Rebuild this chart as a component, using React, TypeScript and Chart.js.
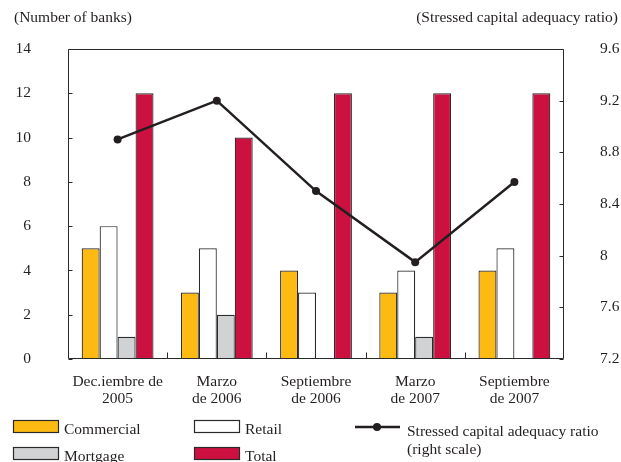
import React, { useEffect, useRef } from "react";
import { Chart, registerables } from "chart.js";

Chart.register(...registerables);

const categories: string[][] = [
  ["Dec.iembre de", "2005"],
  ["Marzo", "de 2006"],
  ["Septiembre", "de 2006"],
  ["Marzo", "de 2007"],
  ["Septiembre", "de 2007"],
];
const commercial = [5, 3, 4, 3, 4];
const retail = [6, 5, 3, 4, 5];
const mortgage = [1, 2, 0, 1, 0];
const total = [12, 10, 12, 12, 12];
const ratio = [8.9, 9.2, 8.5, 7.95, 8.57];
const leftTicks = [0, 2, 4, 6, 8, 10, 12, 14];
const rightTicks = [7.2, 7.6, 8, 8.4, 8.8, 9.2, 9.6];

const leftTitle = "(Number of banks)";
const rightTitle = "(Stressed capital adequacy ratio)";
const legendCommercial = "Commercial";
const legendRetail = "Retail";
const legendMortgage = "Mortgage";
const legendTotal = "Total";
const legendRatio = ["Stressed capital adequacy ratio", "(right scale)"];

const YELLOW = "#FDBA13";
const WHITE = "#FFFFFF";
const GRAY = "#D1D2D4";
const RED = "#CC1141";
const EDGE = "#2A2A2A";
const LINE = "#231F20";
const FONT_FAMILY = "'Liberation Serif', 'DejaVu Serif', serif";
const FONT_SIZE = 15.5;
const TEXT = "#231F20";

const decorPlugin = {
  id: "decor",
  afterDraw(chart: any) {
    const { ctx, chartArea } = chart;
    const { left, right, top, bottom } = chartArea;
    const L = Math.round(left) + 0.5;
    const R = Math.round(right) - 0.5;
    const T = Math.round(top) + 0.5;
    const B = Math.round(bottom) - 0.5;
    ctx.save();
    // frame
    ctx.strokeStyle = EDGE;
    ctx.lineWidth = 1;
    ctx.beginPath();
    ctx.rect(L, T, R - L, B - T);
    ctx.stroke();
    // inside ticks
    const y = chart.scales.y;
    const y1 = chart.scales.y1;
    const x = chart.scales.x;
    ctx.beginPath();
    y.ticks.forEach((_t: any, i: number) => {
      const py = Math.round(y.getPixelForTick(i)) + 0.5;
      ctx.moveTo(L, py);
      ctx.lineTo(L + 4, py);
    });
    y1.ticks.forEach((_t: any, i: number) => {
      const py = Math.round(y1.getPixelForTick(i)) + 0.5;
      ctx.moveTo(R, py);
      ctx.lineTo(R - 4, py);
    });
    for (let i = 0; i < categories.length - 1; i++) {
      const px = Math.round((x.getPixelForTick(i) + x.getPixelForTick(i + 1)) / 2) + 0.5;
      ctx.moveTo(px, B);
      ctx.lineTo(px, B - 6);
    }
    ctx.stroke();

    // titles
    ctx.fillStyle = TEXT;
    ctx.font = `${FONT_SIZE}px ${FONT_FAMILY}`;
    ctx.textBaseline = "middle";
    ctx.textAlign = "left";
    ctx.fillText(leftTitle, 14, 18);
    ctx.textAlign = "right";
    ctx.fillText(rightTitle, 618, 18);

    // legend
    const box = (bx: number, by: number, color: string, label: string) => {
      ctx.fillStyle = color;
      ctx.fillRect(bx, by, 46, 13);
      ctx.strokeStyle = EDGE;
      ctx.lineWidth = 1.2;
      ctx.strokeRect(bx + 0.5, by + 0.5, 45, 12);
      ctx.fillStyle = TEXT;
      ctx.textAlign = "left";
      ctx.textBaseline = "middle";
      ctx.fillText(label, bx + 51, by + 9.5);
    };
    box(13, 420, YELLOW, legendCommercial);
    box(194, 420, WHITE, legendRetail);
    box(13, 447, GRAY, legendMortgage);
    box(194, 447, RED, legendTotal);

    ctx.strokeStyle = LINE;
    ctx.lineWidth = 2.5;
    ctx.beginPath();
    ctx.moveTo(355, 427);
    ctx.lineTo(400, 427);
    ctx.stroke();
    ctx.fillStyle = LINE;
    ctx.beginPath();
    ctx.arc(377, 427, 4, 0, Math.PI * 2);
    ctx.fill();
    ctx.fillStyle = TEXT;
    ctx.textAlign = "left";
    ctx.fillText(legendRatio[0], 407, 432);
    ctx.fillText(legendRatio[1], 407, 449.5);
    ctx.restore();
  },
};

export default function App() {
  const ref = useRef<HTMLCanvasElement | null>(null);

  useEffect(() => {
    if (!ref.current) return;
    const font = { family: FONT_FAMILY, size: FONT_SIZE };
    const barCommon = {
      borderColor: EDGE,
      borderWidth: 1.2,
      barPercentage: 1,
      categoryPercentage: 0.724,
      yAxisID: "y",
      order: 2,
    };
    const chart = new Chart(ref.current, {
      type: "bar",
      data: {
        labels: categories as any,
        datasets: [
          { ...barCommon, label: legendCommercial, data: commercial, backgroundColor: YELLOW } as any,
          { ...barCommon, label: legendRetail, data: retail, backgroundColor: WHITE } as any,
          { ...barCommon, label: legendMortgage, data: mortgage, backgroundColor: GRAY } as any,
          { ...barCommon, label: legendTotal, data: total, backgroundColor: RED } as any,
          {
            type: "line",
            label: legendRatio.join(" "),
            data: ratio,
            yAxisID: "y1",
            borderColor: LINE,
            borderWidth: 2.5,
            pointRadius: 4,
            pointBackgroundColor: LINE,
            pointBorderWidth: 0,
            tension: 0,
            order: 0,
          } as any,
        ],
      },
      options: {
        animation: false,
        responsive: false,
        devicePixelRatio: 1,
        layout: { padding: { top: 49, left: 0, right: 0, bottom: 0 } },
        plugins: { legend: { display: false }, tooltip: { enabled: false }, title: { display: false } },
        scales: {
          x: {
            offset: true,
            grid: { display: false, drawTicks: false },
            border: { display: false },
            ticks: { font: { ...font, lineHeight: "17px" } as any, color: TEXT, padding: 14, maxRotation: 0, autoSkip: false },
            afterFit: (s: any) => {
              s.height = 103;
            },
          },
          y: {
            position: "left",
            min: 0,
            max: 14,
            grid: { display: false, drawTicks: false },
            border: { display: false },
            afterBuildTicks: (s: any) => {
              s.ticks = leftTicks.map((v) => ({ value: v }));
            },
            ticks: { font, color: TEXT, padding: 37, callback: (v: any) => String(v) },
            afterFit: (s: any) => {
              s.width = 68;
            },
          },
          y1: {
            position: "right",
            min: 7.2,
            max: 9.6,
            grid: { display: false, drawTicks: false },
            border: { display: false },
            afterBuildTicks: (s: any) => {
              s.ticks = rightTicks.map((v) => ({ value: v }));
            },
            ticks: { font, color: TEXT, padding: 36, callback: (v: any) => String(+Number(v).toFixed(1)) },
            afterFit: (s: any) => {
              s.width = 57;
            },
          },
        },
      } as any,
      plugins: [decorPlugin],
    });
    return () => chart.destroy();
  }, []);

  return (
    <div style={{ position: "absolute", left: 0, top: 0, width: 621, height: 462, background: "#fff" }}>
      <canvas ref={ref} width={621} height={462} style={{ display: "block", width: 621, height: 462 }} />
    </div>
  );
}
